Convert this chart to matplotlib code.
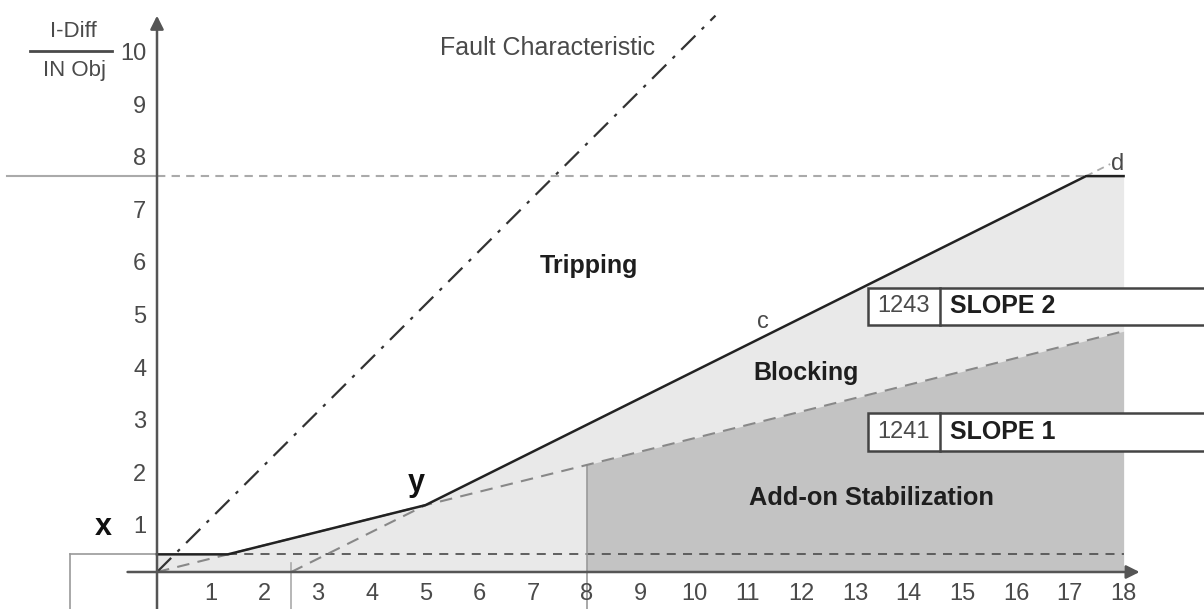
import numpy as np
import matplotlib
matplotlib.use('Agg')
import matplotlib.pyplot as plt
from matplotlib.patches import Rectangle

plt.rcParams['font.family'] = ['Liberation Sans', 'DejaVu Sans']

# characteristic values (I-Diff/IN Obj vs I-Restraint/IN Obj)
pickup = 0.33                      # x : I-DIFF> level
char_x = [0, 1.32, 5, 17.3, 18]    # tripping characteristic
char_y = [0.33, 0.33, 1.25, 7.4, 7.4]
slope1_x = [0, 18]
slope1_y = [0, 4.5]
slope2_x = [2.5, 5]
slope2_y = [0, 1.25]
slope2_ext_x = [17.3, 17.75]
slope2_ext_y = [7.4, 7.625]
fault_x = [0, 10.4]
fault_y = [0, 10.4]
high_level = 7.4                   # d : upper limit
addon_start = 8
x_end = 18
x_ticks = list(range(1, 19))
y_ticks = list(range(1, 11))

light = '#e9e9e9'
dark = '#c3c3c3'
axis_col = '#555555'
text_col = '#4a4a4a'
bold_col = '#1e1e1e'

fig = plt.figure(figsize=(12.04, 6.09), dpi=100)
ax = fig.add_axes([0, 0, 1, 1])
ax.set_xlim((0 - 157) / 53.7, (1204 - 157) / 53.7)
ax.set_ylim((572 - 609) / 53.5, (572 - 0) / 53.5)
ax.axis('off')

# shaded regions
ax.fill_between(char_x, char_y, 0, color=light, lw=0, zorder=1)
xs = np.array([addon_start, x_end])
ax.fill_between(xs, np.interp(xs, slope1_x, slope1_y), 0, color=dark, lw=0, zorder=2)

# helper lines
ax.plot([-1.62, 0], [pickup, pickup], color='#999999', lw=1.2, zorder=3)
ax.plot([-1.62, -1.62], [pickup, -0.8], color='#999999', lw=1.2, zorder=3)
ax.plot([char_x[1], x_end], [pickup, pickup], color='#555555', lw=1.3, ls=(0, (5, 4)), zorder=3)
ax.plot([-2.8, 0], [high_level, high_level], color='#aaaaaa', lw=1.5, zorder=3)
ax.plot([0, char_x[3]], [high_level, high_level], color='#aaaaaa', lw=1.5, ls=(0, (4, 3)), zorder=3)
ax.plot([2.5, 2.5], [0.17, -0.8], color='#aaaaaa', lw=1.2, zorder=3)
ax.plot([addon_start, addon_start], [np.interp(addon_start, slope1_x, slope1_y), -0.8],
        color='#999999', lw=1.2, zorder=3)

ax.plot(slope1_x, slope1_y, color='#888888', lw=1.5, ls=(0, (6, 4)), zorder=4)
ax.plot(slope2_x, slope2_y, color='#888888', lw=1.5, ls=(0, (6, 4)), zorder=4)
ax.plot(slope2_ext_x, slope2_ext_y, color='#aaaaaa', lw=1.3, ls=(0, (4, 3)), zorder=4)
ax.plot(fault_x, fault_y, color='#333333', lw=1.6, ls=(0, (9, 4, 1.5, 4)), zorder=4)

# tripping characteristic
ax.plot(char_x, char_y, color='#222222', lw=1.8, zorder=5, solid_joinstyle='round')

# axes with arrows
ax.annotate('', xy=(0, 10.45), xytext=(0, -0.8),
            arrowprops=dict(arrowstyle='-|>', color=axis_col, lw=1.8, mutation_scale=20), zorder=6)
ax.annotate('', xy=(18.35, 0), xytext=(-0.6, 0),
            arrowprops=dict(arrowstyle='-|>', color=axis_col, lw=1.8, mutation_scale=20), zorder=6)

# tick labels
for n in x_ticks:
    ax.text(n, -0.41, str(n), ha='center', va='center', fontsize=17, color=text_col, zorder=7)
for n in y_ticks:
    ax.text(-0.2, (52.6 * n - 8) / 53.5, str(n), ha='right', va='center', fontsize=17,
            color=text_col, zorder=7)

# axis title as a fraction
ax.text(-1.55, 10.11, 'I-Diff', ha='center', va='center', fontsize=16, color=text_col)
ax.plot([-2.36, -0.84], [9.74, 9.74], color=text_col, lw=2)
ax.text(-1.53, 9.38, 'IN Obj', ha='center', va='center', fontsize=16, color=text_col)

# annotations
ax.text(7.28, 9.79, 'Fault Characteristic', ha='center', va='center', fontsize=18, color=text_col)
ax.text(8.05, 5.72, 'Tripping', ha='center', va='center', fontsize=18, fontweight='bold', color=bold_col)
ax.text(12.08, 3.72, 'Blocking', ha='center', va='center', fontsize=18, fontweight='bold', color=bold_col)
ax.text(13.3, 1.39, 'Add-on Stabilization', ha='center', va='center', fontsize=18.3,
        fontweight='bold', color=bold_col, zorder=7)
ax.text(11.28, 4.67, 'c', ha='center', va='center', fontsize=17, color=text_col)
ax.text(17.88, 7.63, 'd', ha='center', va='center', fontsize=17, color=text_col)
ax.text(-1.0, 0.84, 'x', ha='center', va='center', fontsize=22, fontweight='bold', color='#111111')
ax.text(4.82, 1.66, 'y', ha='center', va='center', fontsize=22, fontweight='bold', color='#111111')

# parameter boxes
boxes = [('1243', 'SLOPE 2', 4.62, 5.31), ('1241', 'SLOPE 1', 2.26, 2.97)]
for addr, name, y0, y1 in boxes:
    ax.add_patch(Rectangle((13.24, y0), 8, y1 - y0, facecolor='white', edgecolor='#444444',
                           lw=1.8, zorder=8))
    ax.plot([14.58, 14.58], [y0, y1], color='#444444', lw=1.8, zorder=9)
    ax.text(13.91, (y0 + y1) / 2, addr, ha='center', va='center', fontsize=17, color=text_col, zorder=9)
    ax.text(14.77, (y0 + y1) / 2, name, ha='left', va='center', fontsize=18, fontweight='bold',
            color=bold_col, zorder=9)

fig.savefig('out.png', dpi=100)
